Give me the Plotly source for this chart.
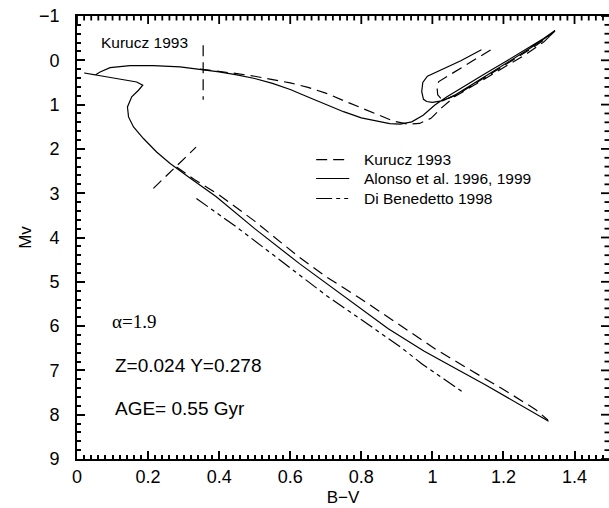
import plotly.graph_objects as go

# ---------------- data ----------------
# Alonso et al. 1996, 1999 (solid): MS -> turn-off hook -> SGB -> RGB -> tip -> clump loop -> AGB
alonso_bv = [1.327, 1.25, 1.15, 1.05, 0.976, 0.876, 0.794, 0.7, 0.626, 0.5, 0.392, 0.313,
             0.276, 0.262, 0.224, 0.187, 0.159, 0.145, 0.142, 0.154, 0.173, 0.185, 0.168,
             0.0513, 0.0205, 0.0513, 0.065, 0.093, 0.149, 0.215, 0.29, 0.346, 0.40, 0.45,
             0.50, 0.55, 0.60, 0.65, 0.70, 0.75, 0.80, 0.85, 0.88, 0.909, 0.942, 0.974,
             1.007, 1.04, 1.094, 1.149, 1.204, 1.258, 1.313, 1.345,
             1.325, 1.275, 1.22, 1.165, 1.11, 1.065, 1.03, 1.0, 0.984, 0.975, 0.97, 0.973,
             0.986, 1.03, 1.08, 1.138]
alonso_mv = [8.15, 7.79, 7.33, 6.89, 6.56, 6.06, 5.58, 5.03, 4.59, 3.8, 3.08, 2.63,
             2.42, 2.33, 2.07, 1.766, 1.504, 1.278, 1.053, 0.826, 0.676, 0.563, 0.489,
             0.338, 0.286, 0.33, 0.263, 0.165, 0.12, 0.12, 0.15, 0.2, 0.26, 0.33,
             0.41, 0.52, 0.66, 0.83, 1.0, 1.16, 1.3, 1.39, 1.43, 1.44, 1.39, 1.24,
             1.01, 0.83, 0.56, 0.3, 0.04, -0.225, -0.49, -0.675,
             -0.54, -0.27, 0.01, 0.29, 0.56, 0.78, 0.91, 0.95, 0.93, 0.88, 0.71, 0.5,
             0.36, 0.2, 0.01, -0.24]

# Kurucz 1993 (dashed): main sequence below the cross
kurucz_ms_bv = [0.28, 0.33, 0.402, 0.5, 0.626, 0.7, 0.794, 0.936, 1.009, 1.1, 1.2, 1.29, 1.325]
kurucz_ms_mv = [2.41, 2.69, 3.05, 3.63, 4.45, 4.88, 5.36, 6.12, 6.52, 6.96, 7.43, 7.88, 8.12]
# Kurucz 1993 (dashed): SGB -> RGB -> tip -> loop -> AGB
kurucz_rg_bv = [0.346, 0.40, 0.45, 0.50, 0.55, 0.60, 0.65, 0.70, 0.75, 0.80, 0.85, 0.89,
                0.93, 0.964, 0.996, 1.029, 1.062, 1.094, 1.149, 1.204, 1.258, 1.313, 1.345,
                1.33, 1.285, 1.23, 1.175, 1.12, 1.075, 1.045, 1.025, 1.015, 1.013, 1.018,
                1.04, 1.07, 1.103, 1.13, 1.165]
kurucz_rg_mv = [0.2, 0.25, 0.3, 0.36, 0.43, 0.51, 0.61, 0.74, 0.91, 1.08, 1.25, 1.37,
                1.44, 1.425, 1.31, 1.05, 0.825, 0.675, 0.41, 0.15, -0.11, -0.41, -0.66,
                -0.55, -0.3, -0.02, 0.26, 0.53, 0.75, 0.86, 0.87, 0.78, 0.6, 0.48,
                0.37, 0.225, 0.074, -0.075, -0.24]
# Kurucz 1993 validity markers
kurucz_limit_bv = [0.355, 0.355]
kurucz_limit_mv = [-0.34, 0.89]
cross_bv = [0.215, 0.335]
cross_mv = [2.89, 1.96]

# Di Benedetto 1998 (dash-dot)
dibene_bv = [0.336, 0.45, 0.55, 0.626, 0.7, 0.794, 0.85, 0.915, 0.97, 1.03, 1.089]
dibene_mv = [3.12, 3.77, 4.38, 4.85, 5.3, 5.82, 6.13, 6.5, 6.85, 7.18, 7.51]

series_names = ["Kurucz 1993", "Alonso et al. 1996, 1999", "Di Benedetto 1998"]

# axis ticks
x_major = [round(0.2 * i, 2) for i in range(8)]              # 0 ... 1.4
x_minor = [round(0.02 * i, 2) for i in range(75) if i % 10]  # every 0.02
y_major = list(range(-1, 10))
y_minor = [round(-1 + 0.2 * i, 1) for i in range(51) if i % 5]

X_RANGE = [0, 1.497]
Y_RANGE = [9, -1]

# ---------------- styles ----------------
FONT = "Liberation Sans, Arial, Helvetica, sans-serif"
LW = 1.2
AXW = 1.8
TKW = 1.8
DASH_K = "11px,6px"
DASH_D = "14px,4px,4px,4px,4px,4px"
MAJ_LEN, MIN_LEN = 8, 4.5

def join(*segs):
    xs, ys = [], []
    for sx, sy in segs:
        if xs:
            xs.append(None); ys.append(None)
        xs += sx; ys += sy
    return xs, ys

kx, ky = join((kurucz_rg_bv, kurucz_rg_mv), (kurucz_ms_bv, kurucz_ms_mv),
              (kurucz_limit_bv, kurucz_limit_mv), (cross_bv, cross_mv))

fig = go.Figure()
fig.add_trace(go.Scatter(x=kx, y=ky, mode="lines", name=series_names[0],
                         line=dict(color="black", width=LW, dash=DASH_K),
                         connectgaps=False, showlegend=False))
fig.add_trace(go.Scatter(x=alonso_bv, y=alonso_mv, mode="lines", name=series_names[1],
                         line=dict(color="black", width=LW), showlegend=False))
fig.add_trace(go.Scatter(x=dibene_bv, y=dibene_mv, mode="lines", name=series_names[2],
                         line=dict(color="black", width=LW, dash=DASH_D), showlegend=False))

axis_common = dict(showgrid=False, zeroline=False, showline=True, linecolor="black",
                   linewidth=AXW, mirror=True, ticks="inside", ticklen=MAJ_LEN,
                   tickcolor="black", tickwidth=TKW,
                   tickfont=dict(family=FONT, size=18, color="black"))

fig.update_xaxes(range=X_RANGE, tickmode="array", tickvals=x_major,
                 ticktext=[f"{v:g}" for v in x_major], ticklabelstandoff=0,
                 minor=dict(ticks="inside", ticklen=MIN_LEN, tickvals=x_minor,
                            tickcolor="black", tickwidth=TKW, showgrid=False),
                 title=dict(text="B−V", font=dict(family=FONT, size=17, color="black"),
                            standoff=6),
                 **axis_common)
fig.update_yaxes(range=Y_RANGE, tickmode="array", tickvals=y_major,
                 ticktext=[str(v).replace("-", "−") for v in y_major],
                 ticklabelstandoff=12,
                 minor=dict(ticks="inside", ticklen=MIN_LEN, tickvals=y_minor,
                            tickcolor="black", tickwidth=TKW, showgrid=False),
                 title=dict(text="Mv", font=dict(family=FONT, size=17, color="black"),
                            standoff=3),
                 **axis_common)

# mirrored inward ticks on the top and right sides (pixel-length shapes)
tick_line = dict(color="black", width=TKW)
for vals, ln in ((x_major, MAJ_LEN), (x_minor, MIN_LEN)):
    for v in vals:
        fig.add_shape(type="line", xref="x", yref="paper", ysizemode="pixel", yanchor=1,
                      x0=v, x1=v, y0=0, y1=-ln, line=tick_line, layer="above")
for vals, ln in ((y_major, MAJ_LEN), (y_minor, MIN_LEN)):
    for v in vals:
        fig.add_shape(type="line", xref="paper", yref="y", xsizemode="pixel", xanchor=1,
                      x0=0, x1=-ln, y0=v, y1=v, line=tick_line, layer="above")

# hand-drawn legend (sample line + label per series)
leg_rows = [2.24, 2.668, 3.12]
leg_dash = [DASH_K, "solid", "16px,4px,4px,4px,4px,4px"]
for name, yy, dsh in zip(series_names, leg_rows, leg_dash):
    fig.add_shape(type="line", xref="x", yref="y", x0=0.673, x1=0.766, y0=yy, y1=yy,
                  line=dict(color="black", width=LW, dash=dsh))
    fig.add_annotation(x=0.803, y=yy, xref="x", yref="y", text=name, xanchor="left",
                       showarrow=False, font=dict(family=FONT, size=15.5, color="black"))

fig.add_annotation(x=0.19, y=-0.4, xref="x", yref="y", text="Kurucz 1993",
                   showarrow=False, font=dict(family=FONT, size=15.5, color="black"))
fig.add_annotation(x=0.094, y=5.9, xref="x", yref="y", text="α=1.9", xanchor="left",
                   showarrow=False,
                   font=dict(family="Liberation Serif, Times New Roman, serif", size=19,
                             color="black"))
fig.add_annotation(x=0.101, y=6.88, xref="x", yref="y", text="Z=0.024 Y=0.278",
                   xanchor="left", showarrow=False,
                   font=dict(family=FONT, size=19, color="black"))
fig.add_annotation(x=0.101, y=7.85, xref="x", yref="y", text="AGE= 0.55 Gyr",
                   xanchor="left", showarrow=False,
                   font=dict(family=FONT, size=19, color="black"))

fig.update_layout(
    width=611, height=508,
    margin=dict(l=77, r=0, t=16, b=49),
    paper_bgcolor="white", plot_bgcolor="white",
    showlegend=False,
)

fig.write_html("out.html",
               config={"displayModeBar": False},
               post_script="document.body.style.margin='0px';"
                           "document.body.style.overflow='hidden';")
